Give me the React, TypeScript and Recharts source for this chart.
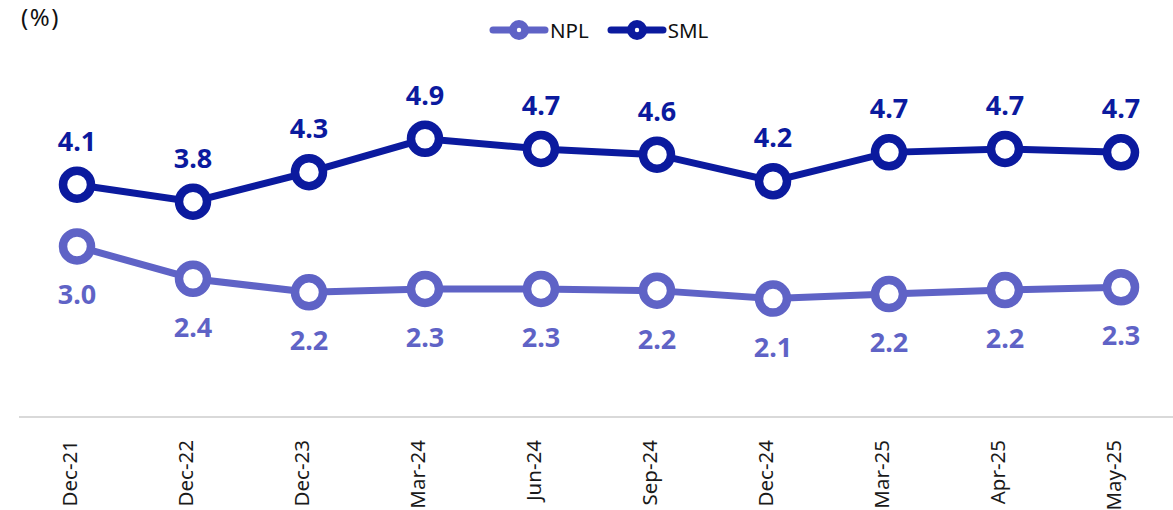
import { LabelList, Legend, Line, LineChart, XAxis, YAxis } from "recharts";

const PERIODS = [
  "Dec-21",
  "Dec-22",
  "Dec-23",
  "Mar-24",
  "Jun-24",
  "Sep-24",
  "Dec-24",
  "Mar-25",
  "Apr-25",
  "May-25",
];
const NPL = [3.01, 2.44, 2.2, 2.26, 2.26, 2.23, 2.09, 2.17, 2.24, 2.29];
const SML = [4.1, 3.8, 4.32, 4.91, 4.73, 4.63, 4.16, 4.67, 4.73, 4.67];

const COLORS = {
  npl: "#5f63c6",
  sml: "#0b1a9e",
};

const FONT = '"Noto Sans", sans-serif';

const data = PERIODS.map((period, i) => ({ period, npl: NPL[i], sml: SML[i] }));

function RotatedTick(props: any) {
  const { x, y, payload } = props;
  return (
    <text
      transform={`translate(${x},${y + 15}) rotate(-90)`}
      textAnchor="end"
      fontSize={20.5}
      fontFamily={FONT}
      fill="#1a1a1a"
    >
      {payload.value}
    </text>
  );
}

const makeLabel = (color: string, above: boolean) => (props: any) => {
  const { x, y, value } = props;
  return (
    <text
      x={x}
      y={above ? y - 34 : y + 58}
      textAnchor="middle"
      fontSize={27}
      fontWeight={700}
      fontFamily={FONT}
      fill={color}
    >
      {Number(value).toFixed(1)}
    </text>
  );
};

function LegendIcon({ color }: { color: string }) {
  return (
    <svg width={60} height={24} style={{ display: "block" }}>
      <line x1={4} y1={12} x2={56} y2={12} stroke={color} strokeWidth={7} strokeLinecap="round" />
      <circle cx={30} cy={12} r={10} fill={color} />
      <circle cx={30} cy={12} r={2.2} fill="#fff" />
    </svg>
  );
}

function ChartLegend() {
  const items = [
    { name: "NPL", color: COLORS.npl },
    { name: "SML", color: COLORS.sml },
  ];
  return (
    <div style={{ display: "flex", alignItems: "center", fontFamily: FONT }}>
      {items.map((it) => (
        <div key={it.name} style={{ display: "flex", alignItems: "center", marginRight: 18 }}>
          <LegendIcon color={it.color} />
          <span style={{ fontSize: 20.5, color: "#111", marginLeft: 1 }}>{it.name}</span>
        </div>
      ))}
    </div>
  );
}

export default function App() {
  return (
    <div
      style={{
        position: "absolute",
        left: 0,
        top: 0,
        width: 1173,
        height: 510,
        overflow: "hidden",
        background: "#fff",
      }}
    >
      <div
        style={{
          position: "absolute",
          left: 21,
          top: 0,
          fontSize: 24,
          letterSpacing: 1.5,
          fontFamily: FONT,
          color: "#111",
        }}
      >
        (%)
      </div>
      <LineChart
        width={1180}
        height={510}
        data={data}
        margin={{ top: 77, right: 0, left: 19, bottom: 0 }}
      >
        <XAxis
          dataKey="period"
          height={93}
          interval={0}
          padding={{ left: 58, right: 59 }}
          axisLine={{ stroke: "#d9d9d9", strokeWidth: 2 }}
          tickLine={false}
          tick={<RotatedTick />}
        />
        <YAxis hide domain={[0, 6]} />
        <Legend
          layout="horizontal"
          verticalAlign="middle"
          align="center"
          content={<ChartLegend />}
          wrapperStyle={{ top: 16, left: 489, width: "auto" }}
        />
        <Line
          dataKey="npl"
          name="NPL"
          stroke={COLORS.npl}
          strokeWidth={7}
          dot={{ r: 14, fill: "#fff", stroke: COLORS.npl, strokeWidth: 8.5 }}
          activeDot={false}
          isAnimationActive={false}
        >
          <LabelList dataKey="npl" content={makeLabel(COLORS.npl, false)} />
        </Line>
        <Line
          dataKey="sml"
          name="SML"
          stroke={COLORS.sml}
          strokeWidth={7}
          dot={{ r: 14, fill: "#fff", stroke: COLORS.sml, strokeWidth: 8.5 }}
          activeDot={false}
          isAnimationActive={false}
        >
          <LabelList dataKey="sml" content={makeLabel(COLORS.sml, true)} />
        </Line>
      </LineChart>
    </div>
  );
}
